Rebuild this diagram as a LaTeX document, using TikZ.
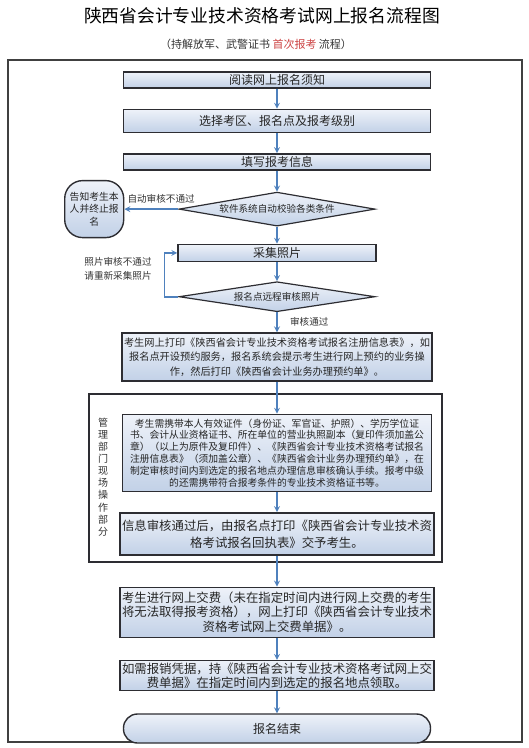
\documentclass[tikz,border=0pt]{standalone}
\usepackage{fontspec}
\setmainfont{Noto Sans CJK SC}
\usetikzlibrary{shapes.geometric, arrows, positioning}
\definecolor{flowblue}{RGB}{79,129,189}
\definecolor{boxtop}{RGB}{238,242,249}
\definecolor{boxbot}{RGB}{194,209,231}
\definecolor{boxline}{RGB}{45,45,50}
\definecolor{redmark}{RGB}{204,68,68}

\begin{document}
\begin{tikzpicture}[
    x=1pt, y=-1pt,
    node distance=20pt,
    pbox/.style={rectangle, draw=boxline, line width=1.4pt, top color=boxtop, bottom color=boxbot, align=center, text=black!85, inner xsep=2pt, inner ysep=1pt},
    cbox/.style={diamond, draw=boxline, line width=1.2pt, top color=boxtop, bottom color=boxbot, inner sep=1pt, text=black!85, font={\fontsize{9.6}{11}\selectfont}},
    tbox/.style={pbox, rounded corners=14pt},
    lbl/.style={text=black!80, align=center, font={\fontsize{9.6}{14}\selectfont}},
    arr/.style={->, >=stealth, line width=1.6pt, color=flowblue}
]
\useasboundingbox (0,0) rectangle (529,748);

% title
\node (title) at (262,16) {\fontsize{17.8}{20}\selectfont 陕西省会计专业技术资格考试网上报名流程图};
\node (sub) at (256,44) {\fontsize{11}{13}\selectfont\color{black!80}（持解放军、武警证书 \textcolor{redmark}{首次报考} 流程）};

% frames
\draw[line width=1.5pt, draw=black!75] (8,60) rectangle (522,742);
\draw[line width=1.4pt, draw=boxline] (89,394) rectangle (442,562);

% online steps
\node[pbox, minimum width=307pt, minimum height=16pt, font={\fontsize{12}{14}\selectfont}] (s1) at (277,80) {阅读网上报名须知};
\node[pbox, minimum width=307pt, minimum height=23pt, font={\fontsize{12}{14}\selectfont}, below=of s1] (s2) {选择考区、报名点及报考级别};
\node[pbox, minimum width=307pt, minimum height=16pt, font={\fontsize{12}{14}\selectfont}, below=of s2] (s3) {填写报考信息};
\node[cbox, aspect=5.8, minimum width=196pt, minimum height=34pt, below=21pt of s3] (d1) {软件系统自动校验各类条件};
\node[pbox, rounded corners=18pt, minimum width=59pt, minimum height=57pt, font={\fontsize{9.8}{12.5}\selectfont}, left=54pt of d1] (nt) {告知考生本\\人并终止报\\名};
\node[pbox, minimum width=198pt, minimum height=17pt, font={\fontsize{12}{14}\selectfont}, below=17pt of d1] (s4) {采集照片};
\node[cbox, aspect=6.5, minimum width=196pt, minimum height=30pt, below=19pt of s4] (d2) {报名点远程审核照片};
\node[lbl] (redo) at (118,269) {照片审核不通过\\请重新采集照片};
\node[pbox, minimum width=310pt, minimum height=48pt, font={\fontsize{10.2}{14.5}\selectfont}, below=of d2] (s5) {考生网上打印《陕西省会计专业技术资格考试报名注册信息表》，如\\报名点开设预约服务，报名系统会提示考生进行网上预约的业务操\\作，然后打印《陕西省会计业务办理预约单》。};

% on-site part
\node[lbl, font={\fontsize{10}{12.1}\selectfont}] (grp) at (103,477) {管\\理\\部\\门\\现\\场\\操\\作\\部\\分};
\node[pbox, minimum width=309pt, minimum height=77pt, font={\fontsize{9.8}{11.8}\selectfont}, below=32pt of s5] (s6) {考生需携带本人有效证件（身份证、军官证、护照）、学历学位证\\书、会计从业资格证书、所在单位的营业执照副本（复印件须加盖公\\章）（以上为原件及复印件）、《陕西省会计专业技术资格考试报名\\注册信息表》（须加盖公章）、《陕西省会计业务办理预约单》，在\\制定审核时间内到选定的报名地点办理信息审核确认手续。报考中级\\的还需携带符合报考条件的专业技术资格证书等。};
\node[pbox, minimum width=313pt, minimum height=42pt, font={\fontsize{12.4}{17}\selectfont}, below=of s6] (s7) {信息审核通过后，由报名点打印《陕西省会计专业技术资\\格考试报名回执表》交予考生。};

% payment
\node[pbox, minimum width=313pt, minimum height=50pt, font={\fontsize{12.4}{14.5}\selectfont}, below=31pt of s7] (s8) {考生进行网上交费（未在指定时间内进行网上交费的考生\\将无法取得报考资格），网上打印《陕西省会计专业技术\\资格考试网上交费单据》。};
\node[pbox, minimum width=313pt, minimum height=30pt, font={\fontsize{12.4}{14}\selectfont}, below=22pt of s8] (s9) {如需报销凭据，持《陕西省会计专业技术资格考试网上交\\费单据》在指定时间内到选定的报名地点领取。};
\node[tbox, minimum width=307pt, minimum height=29pt, font={\fontsize{12}{14}\selectfont}, below=22pt of s9] (end) {报名结束};

\draw[arr] (s1) -- (s2);
\draw[arr] (s2) -- (s3);
\draw[arr] (s3) -- (d1);
\draw[arr] (d1.west) -- node[lbl, above=2pt, pos=0.32] {自动审核不通过} (d1.west -| nt.east);
\draw[arr] (d1) -- (s4);
\draw[arr] (s4) -- (d2);
\draw[arr] (d2.west) -- ++(-14,0) |- (s4.west);
\draw[arr] (d2) -- node[lbl, right=9pt] {审核通过} (s5);
\draw[arr] (s5) -- (s6);
\draw[arr] (s6) -- (s7);
\draw[arr] (s7) -- (s8);
\draw[arr] (s8) -- (s9);
\draw[arr] (s9) -- (end);

\end{tikzpicture}
\end{document}
